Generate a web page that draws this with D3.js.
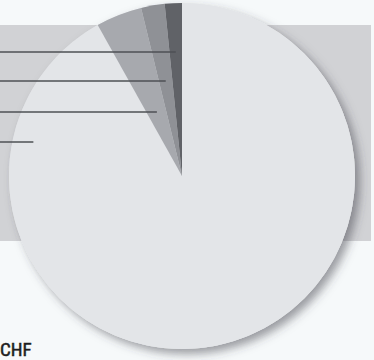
<!DOCTYPE html>
<html>
<head>
<meta charset="utf-8">
<script src="https://cdn.jsdelivr.net/npm/d3@7"></script>
<style>
  html, body { margin: 0; padding: 0; background: #f6f9fa; }
  svg { display: block; }
</style>
</head>
<body>
<script>
// Share of each holding, in percent (clockwise from 12 o'clock)
const categories = ["Hauptanteil", "Anteil B", "Anteil C", "Anteil D"];
const shares = [91.9, 4.3, 2.2, 1.6];
const sliceColors = ["#e3e5e8", "#a7a9ae", "#8f9196", "#606267"];
const currency = "CHF";

const W = 374, H = 360;
const cx = 182, cy = 176, r = 173;

const svg = d3.select("body").append("svg")
  .attr("width", W).attr("height", H);

// soft drop shadow under the pie
const defs = svg.append("defs");
const f = defs.append("filter").attr("id", "shadow")
  .attr("x", "-20%").attr("y", "-20%").attr("width", "140%").attr("height", "140%");
f.append("feDropShadow").attr("dx", 5).attr("dy", 5)
  .attr("stdDeviation", 5).attr("flood-color", "#3a3d44").attr("flood-opacity", 0.5);

// grey backdrop band
svg.append("rect")
  .attr("x", 0).attr("y", 25).attr("width", 371).attr("height", 216)
  .attr("fill", "#d1d2d5");

const pie = d3.pie().sort(null).startAngle(0).endAngle(2 * Math.PI);
const arcs = pie(shares);
const arc = d3.arc().innerRadius(0).outerRadius(r);

const g = svg.append("g").attr("transform", `translate(${cx},${cy})`);

g.append("circle").attr("r", r).attr("fill", sliceColors[0])
  .attr("filter", "url(#shadow)");

g.selectAll("path.slice").data(arcs).join("path")
  .attr("class", "slice")
  .attr("d", arc)
  .attr("fill", (d, i) => sliceColors[i]);

// leader lines running off to the left, one per category
const leaderY = [142, 112, 81, 52];
const leaders = arcs.map((d, i) => {
  const y = leaderY[i];
  const dy = cy - y;
  let x;
  if (i === 0) {
    x = cx - Math.sqrt(r * r - dy * dy) + 21;
  } else {
    const mid = (d.startAngle + d.endAngle) / 2;
    x = cx + dy * Math.tan(mid);
  }
  return { y, x, name: categories[i] };
});

svg.selectAll("line.leader").data(leaders).join("line")
  .attr("class", "leader")
  .attr("x1", -10).attr("x2", d => d.x)
  .attr("y1", d => d.y).attr("y2", d => d.y)
  .attr("stroke", "#4e5055").attr("stroke-width", 1.4);

svg.append("text")
  .attr("x", 0).attr("y", 356)
  .attr("font-family", "'Liberation Sans Narrow', 'Roboto Condensed', 'Arial Narrow', sans-serif")
  .attr("font-size", 19)
  .attr("fill", "#1e1e1e")
  .attr("stroke", "#1e1e1e")
  .attr("stroke-width", 0.5)
  .text(currency);
</script>
</body>
</html>
